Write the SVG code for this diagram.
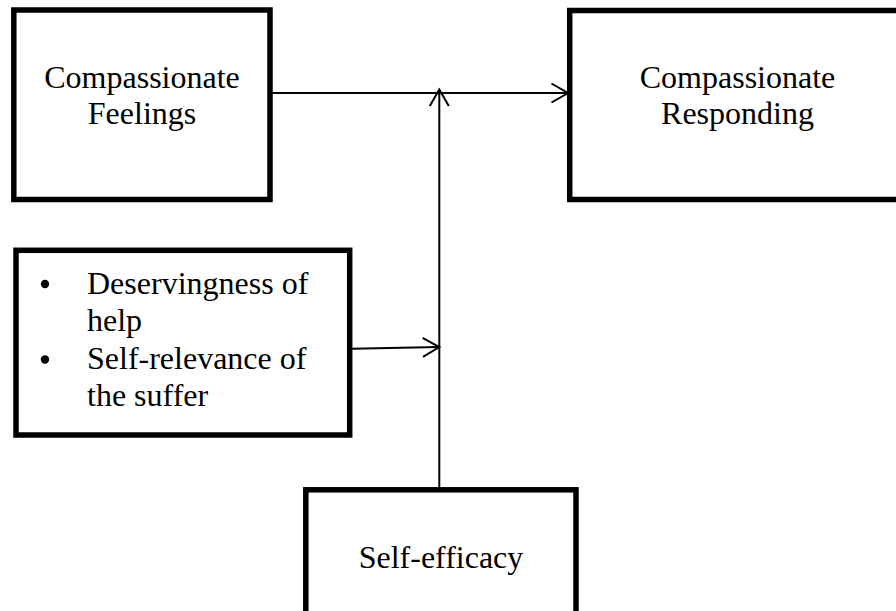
<svg xmlns="http://www.w3.org/2000/svg" width="896" height="611" viewBox="0 0 896 611">
  <style>
    .box { fill: #ffffff; stroke: #000000; stroke-width: 5.5; }
    .lbl { font-family: "Liberation Serif", "Times New Roman", serif; font-size: 32px; fill: #000000; }
    .mid { text-anchor: middle; }
    .conn { fill: none; stroke: #000000; stroke-width: 2; }
  </style>
  <defs>
    <marker id="chev" markerUnits="userSpaceOnUse" viewBox="-20 -12 24 24" refX="0" refY="0" markerWidth="24" markerHeight="24" orient="auto">
      <path d="M -16.5 -9.5 L 0 0 L -16.5 9.5" fill="none" stroke="#000000" stroke-width="2"/>
    </marker>
  </defs>
  <rect width="896" height="611" fill="#ffffff"/>

  <g id="compassionate-feelings">
    <rect class="box" x="13.8" y="10" width="256.2" height="189.5"/>
    <text class="lbl mid" x="142" y="88">Compassionate</text>
    <text class="lbl mid" x="142" y="124">Feelings</text>
  </g>

  <g id="compassionate-responding">
    <rect class="box" x="569.7" y="10.5" width="340" height="189"/>
    <text class="lbl mid" x="737.5" y="88">Compassionate</text>
    <text class="lbl mid" x="737.5" y="124">Responding</text>
  </g>

  <g id="moderators">
    <rect class="box" x="16" y="250.3" width="333.7" height="184.7"/>
    <circle cx="45" cy="284" r="4.2" fill="#000000"/>
    <circle cx="45" cy="359.5" r="4.2" fill="#000000"/>
    <text class="lbl" x="87" y="294">Deservingness of</text>
    <text class="lbl" x="87" y="331">help</text>
    <text class="lbl" x="87" y="369">Self-relevance of</text>
    <text class="lbl" x="87" y="406">the suffer</text>
  </g>

  <g id="self-efficacy">
    <rect class="box" x="305.8" y="489.8" width="270.2" height="140"/>
    <text class="lbl mid" x="441" y="568">Self-efficacy</text>
  </g>

  <g id="connectors">
    <line class="conn" x1="272" y1="93" x2="568" y2="93" marker-end="url(#chev)"/>
    <line class="conn" x1="439.3" y1="488" x2="439.3" y2="89.5" marker-end="url(#chev)"/>
    <line class="conn" x1="352" y1="348.7" x2="439.3" y2="347" marker-end="url(#chev)"/>
  </g>
</svg>
